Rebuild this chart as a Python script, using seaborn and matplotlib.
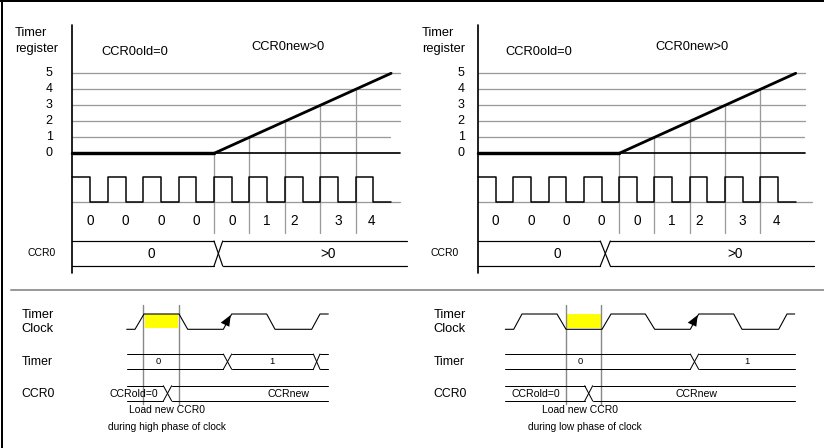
import numpy as np
import pandas as pd
import matplotlib
matplotlib.use("Agg")
import matplotlib.pyplot as plt
import seaborn as sns

sns.set_theme(style="white")
plt.rcParams["font.family"] = ["Liberation Sans", "DejaVu Sans"]

# ---------------- data ----------------
register_ticks = [0, 1, 2, 3, 4, 5]
cycle_counts = [0, 0, 0, 0, 0, 1, 2, 3, 4]
clock_half_levels = [1, 0] * 9
ramp_cycles = [4, 5, 6, 7, 8, 9]
ramp_values = [0, 1, 2, 3, 4, 5]
region_labels = ["CCR0old=0", "CCR0new>0"]
ccr0_values = ["0", ">0"]
bottom_timer_values = ["0", "1"]
bottom_ccr0_values = ["CCRold=0", "CCRnew"]
captions = ["during high phase of clock", "during low phase of clock"]
caption_title = "Load new CCR0"

GREY = "#9a9a9a"


def px(w):
    return w * 0.72


fig = plt.figure(figsize=(8.24, 4.48), dpi=100)
ax = fig.add_axes([0, 0, 1, 1])
ax.set_axis_off()

# frame (only top and left visible) and separator
ax.plot([0, 824], [1.5, 1.5], color="black", lw=px(2))
ax.plot([2.5, 2.5], [0, 448], color="black", lw=px(2))
ax.plot([11, 824], [290.5, 290.5], color=GREY, lw=px(2))


def bus(xa, xb, xs, top, bot, lw=px(1.1)):
    """bus with crossings at each (x_start, x_end) in xs"""
    pts = [xa] + [v for c in xs for v in c] + [xb]
    for i in range(0, len(pts), 2):
        ax.plot([pts[i], pts[i + 1]], [top, top], color="black", lw=lw)
        ax.plot([pts[i], pts[i + 1]], [bot, bot], color="black", lw=lw)
    for (s, e) in xs:
        ax.plot([s, e], [top, bot], color="black", lw=lw)
        ax.plot([s, e], [bot, top], color="black", lw=lw)


def top_panel(x0, P, lbl_x, tick_x, old_x, new_x, grid_end, grid1_end,
              base_end, bus_end, bus_cross, bus_txt, ccr_lbl_x):
    Y0, U = 153.3, 16.0

    def yv(v):
        return Y0 - U * v

    # labels
    ax.text(lbl_x, 33, "Timer", ha="left", va="center", fontsize=9.3, color="black")
    ax.text(lbl_x, 49, "register", ha="left", va="center", fontsize=9.3, color="black")
    ax.text(old_x, 52, region_labels[0], ha="center", va="center", fontsize=9.3, color="black")
    ax.text(new_x, 47, region_labels[1], ha="center", va="center", fontsize=9.3, color="black")

    # horizontal grid
    for v in register_ticks[1:]:
        end = grid1_end if v == 1 else grid_end
        ax.plot([x0, end], [yv(v)] * 2, color=GREY, lw=px(1.3), zorder=1)
    for v in register_ticks:
        ax.text(tick_x, yv(v), str(v), ha="center", va="center", fontsize=9, color="black")

    # zero level
    xs = x0 + ramp_cycles[0] * P
    ax.plot([x0, xs], [Y0, Y0], color="black", lw=px(3.4), zorder=3)
    ax.plot([xs, grid_end], [Y0, Y0], color="black", lw=px(1.7), zorder=3)

    # ramp
    df = pd.DataFrame({"x": [x0 + c * P for c in ramp_cycles],
                       "y": [yv(v) for v in ramp_values]})
    sns.lineplot(data=df, x="x", y="y", ax=ax, color="black", lw=px(2.8),
                 estimator=None, sort=False, legend=False, zorder=4)

    # vertical grid lines from ramp down
    for c, v in zip(ramp_cycles[:-1], ramp_values[:-1]):
        xx = x0 + c * P
        ax.plot([xx, xx], [yv(v), 232.7], color=GREY, lw=px(1.3), zorder=1)

    # y axis
    ax.plot([x0, x0], [25, 273], color="black", lw=px(1.7), zorder=5)

    # clock
    HI, LO = 176.7, 201.7
    ax.plot([x0, base_end], [LO, LO], color=GREY, lw=px(1.3), zorder=1)
    cx, cy = [], []
    for i, lev in enumerate(clock_half_levels):
        y = HI if lev else LO
        cx += [x0 + i * P / 2, x0 + (i + 1) * P / 2]
        cy += [y, y]
    cx.append(x0 + 9 * P)
    cy.append(LO)
    cdf = pd.DataFrame({"x": cx, "y": cy})
    sns.lineplot(data=cdf, x="x", y="y", ax=ax, color="black", lw=px(1.5),
                 estimator=None, sort=False, legend=False, zorder=4)

    # count labels
    nudge = [0, 0, 0, 0, 0, 0, -8, 0, -2]
    for i, c in enumerate(cycle_counts):
        ax.text(x0 + (i + 0.5) * P + nudge[i], 221, str(c), ha="center",
                va="center", fontsize=9.8, color="black")

    # CCR0 bus
    bus(x0, bus_end, [bus_cross], 241, 266, lw=px(1.2))
    ax.text(bus_txt[0], 253.5, ccr0_values[0], ha="center", va="center", fontsize=9.8, color="black")
    ax.text(bus_txt[1], 253.5, ccr0_values[1], ha="center", va="center", fontsize=9.8, color="black")
    ax.text(ccr_lbl_x, 253.5, "CCR0", ha="center", va="center", fontsize=7.5, color="black")


top_panel(72.5, 35.4, 15, 49.3, 135, 288, 400, 390, 400, 407,
          (214, 222.7), (151.7, 328), 41.7)
top_panel(478, 35.3, 422, 461.3, 538.7, 692, 805, 804, 812, 813.7,
          (600.3, 610.3), (557, 735.3), 445)


def bottom_panel(lbl_x, clk_x, clk_lev, yellow, vlines, start, end,
                 timer_cross, timer_txt, ccr_cross, ccr_txt, cap_x, cap_idx, arrow):
    HI, LO = 314, 329.3
    ax.text(lbl_x, 315, "Timer", ha="left", va="center", fontsize=9.3, color="black")
    ax.text(lbl_x, 329.5, "Clock", ha="left", va="center", fontsize=9.3, color="black")
    ax.text(lbl_x, 361.7, "Timer", ha="left", va="center", fontsize=8.8, color="black")
    ax.text(lbl_x, 394, "CCR0", ha="left", va="center", fontsize=8.8, color="black")

    ax.fill([yellow[0], yellow[1], yellow[1], yellow[0]], [HI, HI, 328.3, 328.3],
            color="#ffff00", lw=0, zorder=1)
    cdf = pd.DataFrame({"x": clk_x, "y": [HI if l else LO for l in clk_lev]})
    sns.lineplot(data=cdf, x="x", y="y", ax=ax, color="black", lw=px(1.1),
                 estimator=None, sort=False, legend=False, zorder=3)
    ax.fill(arrow[0], arrow[1], color="black", lw=0, zorder=4)

    for xv in vlines:
        ax.plot([xv, xv], [305, 404], color="#888888", lw=px(1.4), zorder=2)

    bus(start, end, timer_cross, 354, 369.3, lw=px(1.0))
    for t, xt in zip(bottom_timer_values, timer_txt):
        ax.text(xt, 361.7, t, ha="center", va="center", fontsize=6.8, color="black")
    bus(start, end, ccr_cross, 385.7, 401, lw=px(1.0))
    for t, xt in zip(bottom_ccr0_values, ccr_txt):
        ax.text(xt, 394, t, ha="center", va="center", fontsize=7.6, color="black")

    ax.text(cap_x[0], 410, caption_title, ha="center", va="center", fontsize=7.5, color="black")
    ax.text(cap_x[1], 427, captions[cap_idx], ha="center", va="center", fontsize=7.3, color="black")


bottom_panel(
    21.7,
    [126.7, 135, 144, 179, 187.7, 223.3, 231.7, 266.7, 275, 311.7, 320, 328.3],
    [0, 0, 1, 1, 0, 0, 1, 1, 0, 0, 1, 1],
    (145, 178.3), (143.3, 179.3), 126.7, 328.3,
    [(223.3, 231.7), (313.3, 320)], (158.3, 271.7),
    [(163.3, 171.7)], (134, 288.3),
    (166.7, 166.7), 0,
    ([220.7, 230.7, 229.3], [322.7, 315, 326.7]),
)
bottom_panel(
    433.7,
    [505.3, 513.7, 522, 557, 566, 602, 611, 645.3, 654.7, 690.3, 698.7, 733.7,
     742, 778.7, 787, 794.7],
    [0, 0, 1, 1, 0, 0, 1, 1, 0, 0, 1, 1, 0, 0, 1, 1],
    (567, 601.3), (566, 601.3), 504.7, 794.7,
    [(690.3, 698.7)], (580.3, 747),
    [(584.7, 592.7)], (536, 697),
    (580.3, 585.3), 1,
    ([687.7, 697.7, 696.3], [322.7, 315, 326.7]),
)

ax.set_xlim(0, 824)
ax.set_ylim(448, 0)
ax.set_xlabel("")
ax.set_ylabel("")
fig.savefig("out.png", dpi=100, facecolor="white")
